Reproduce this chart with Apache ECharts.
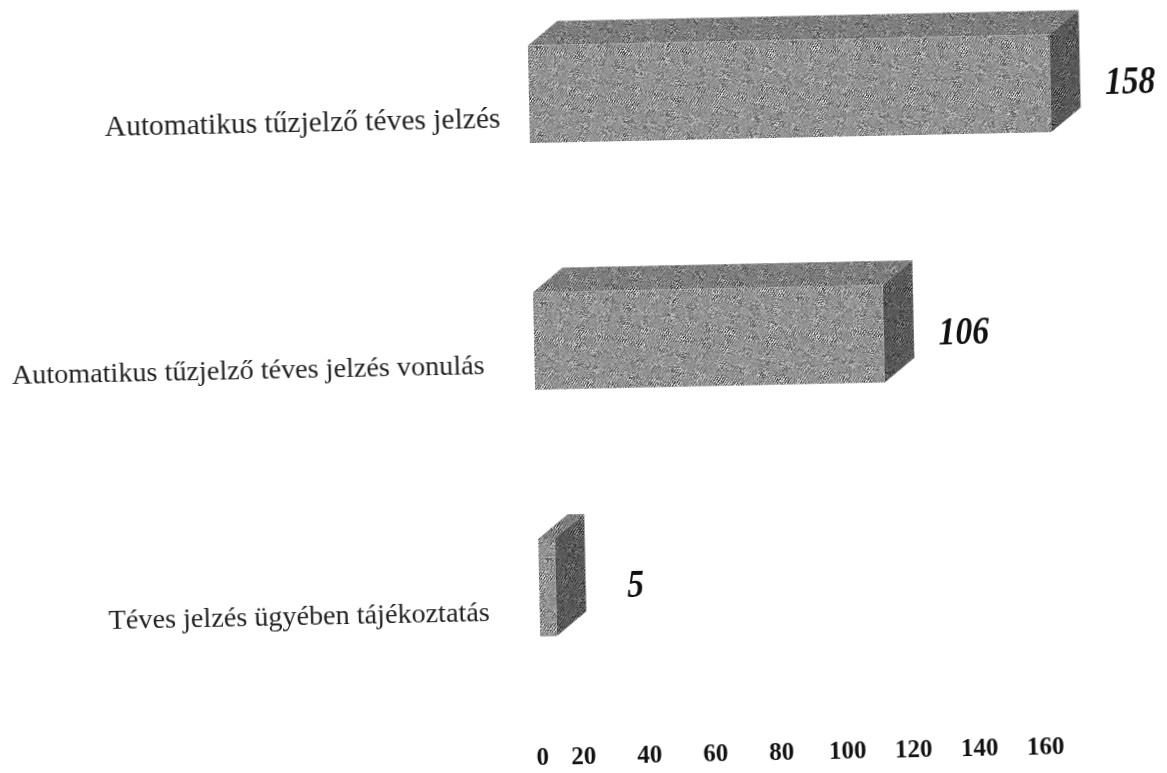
<!DOCTYPE html>
<html>
<head>
<meta charset="utf-8">
<style>
  html, body { margin: 0; padding: 0; background: #fff; overflow: hidden; }
  /* the source is a slightly crooked scan, so the whole chart is turned a little;
     the top bar sits so high that the chart box starts above the page */
  #main { width: 1167px; height: 803px; margin-top: -30px; transform: rotate(-1.2deg); transform-origin: 583px 416px; }
</style>
<script src="https://cdn.jsdelivr.net/npm/echarts@6/dist/echarts.min.js"></script>
</head>
<body>
<div id="main"></div>
<script>
var categories = [
  'Automatikus tűzjelző téves jelzés',
  'Automatikus tűzjelző téves jelzés vonulás',
  'Téves jelzés ügyében tájékoztatás'
];
var values = [158, 106, 5];
var axisMin = 0;
var axisMax = 160;
var axisStep = 20;

// halftone look of the scanned bars
function speckle(x, y) {
  var s = Math.sin(x * 12.9898 + y * 78.233) * 43758.5453;
  return s - Math.floor(s);
}
function halftone(base, amp) {
  var c = document.createElement('canvas');
  c.width = c.height = 256;
  var ctx = c.getContext('2d');
  var img = ctx.createImageData(256, 256);
  for (var y = 0; y < 256; y++) {
    for (var x = 0; x < 256; x++) {
      var fine = Math.sin(x * 2.45 + y * 1.65) * 0.5 + (speckle(x, y) - 0.5) * 1.4;
      var wave = 0.6 + 0.4 * Math.sin(x * 0.196 - y * 0.147) * Math.sin(x * 0.098 + y * 0.221);
      var v = base + amp * fine * wave;
      v = Math.max(0, Math.min(255, v));
      var i = (y * 256 + x) * 4;
      img.data[i] = img.data[i + 1] = img.data[i + 2] = v;
      img.data[i + 3] = 255;
    }
  }
  ctx.putImageData(img, 0, 0);
  return { image: c, repeat: 'repeat' };
}
var frontFill = halftone(146, 110);
var topFill = halftone(125, 100);
var sideFill = halftone(88, 80);

var depthX = 30;
var depthY = 24;

function renderBar(params, api) {
  var end = api.coord([api.value(0), api.value(1)]);
  var start = api.coord([0, api.value(1)]);
  var h = api.size([0, 1])[1] * 0.395;
  var x0 = start[0], x1 = end[0];
  var y0 = end[1] - h / 2, y1 = end[1] + h / 2;
  return {
    type: 'group',
    children: [
      { type: 'polygon', shape: { points: [[x0, y0], [x0 + depthX, y0 - depthY], [x1 + depthX, y0 - depthY], [x1, y0]] }, style: { fill: topFill } },
      { type: 'polygon', shape: { points: [[x1, y0], [x1 + depthX, y0 - depthY], [x1 + depthX, y1 - depthY], [x1, y1]] }, style: { fill: sideFill } },
      { type: 'rect', shape: { x: x0, y: y0, width: x1 - x0, height: y1 - y0 }, style: { fill: frontFill } },
      {
        type: 'text',
        x: x1 + 80, y: end[1] + 1,
        scaleX: 0.82,
        style: {
          x: 0, y: 0,
          text: String(api.value(0)),
          fill: '#111',
          font: 'italic bold 41px "Liberation Serif", serif',
          align: 'center', verticalAlign: 'middle'
        }
      }
    ]
  };
}

var chart = echarts.init(document.getElementById('main'), null, { renderer: 'canvas' });
chart.setOption({
  animation: false,
  backgroundColor: '#fff',
  grid: { left: 535, width: 528, top: 0, height: 740 },
  xAxis: {
    type: 'value',
    min: axisMin, max: axisMax, interval: axisStep,
    splitLine: { show: false },
    axisLine: { show: false },
    axisTick: { show: false },
    axisLabel: {
      margin: 35,
      hideOverlap: false,
      showMinLabel: true,
      showMaxLabel: true,
      formatter: function (v) { return v === 0 ? '{z|0}' : '{t|' + v + '}'; },
      rich: {
        z: { fontFamily: 'Liberation Serif', fontWeight: 'bold', fontSize: 25, color: '#111' },
        t: { fontFamily: 'Liberation Serif', fontWeight: 'bold', fontSize: 25, color: '#111', padding: [0, 50, 0, 0] }
      }
    }
  },
  yAxis: {
    type: 'category',
    inverse: true,
    data: categories,
    axisLine: { show: false },
    axisTick: { show: false },
    axisLabel: {
      margin: 0,
      interval: 0,
      formatter: function (v, i) { return (i === 0 ? '{a|' : '{b|') + v + '}'; },
      rich: {
        a: { fontFamily: 'Liberation Serif', fontSize: 29.5, color: '#222', padding: [50, 29, 0, 0] },
        b: { fontFamily: 'Liberation Serif', fontSize: 28.2, color: '#222', padding: [50, 50, 0, 0] }
      }
    }
  },
  series: [{
    type: 'custom',
    renderItem: renderBar,
    clip: false,
    encode: { x: 0, y: 1 },
    data: values.map(function (v, i) { return [v, i]; })
  }]
});
</script>
</body>
</html>
